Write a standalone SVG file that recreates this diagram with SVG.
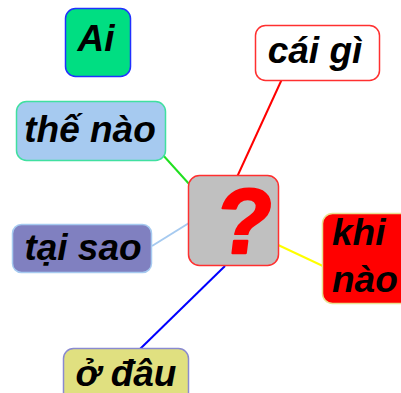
<svg xmlns="http://www.w3.org/2000/svg" width="401" height="393" viewBox="0 0 401 393">
  <style>
    .lbl { font-family: "Liberation Sans", Arial, sans-serif; font-weight: bold; font-style: italic; font-size: 37px; fill: #000; }
    .box { stroke-width: 1.5; }
    .link { stroke-width: 2; fill: none; }
  </style>
  <rect width="401" height="393" fill="#fff"/>
  <g id="connectors">
    <line class="link" x1="162" y1="154" x2="190" y2="185" stroke="#20e020"/>
    <line class="link" x1="282" y1="79" x2="237" y2="177" stroke="#ff0000"/>
    <line class="link" x1="152" y1="246" x2="189" y2="223" stroke="#a6caf0"/>
    <line class="link" x1="276" y1="244" x2="325" y2="267" stroke="#ffff00"/>
    <line class="link" x1="225" y1="266" x2="140" y2="349" stroke="#0000ff"/>
  </g>
  <g id="center">
    <rect class="box" x="188.5" y="175.5" width="90" height="90" rx="11" fill="#c0c0c0" stroke="#ff3030"/>
    <text transform="translate(241 253) skewX(-7)" x="0" y="0" text-anchor="middle" style="font-family:'Liberation Sans',Arial,sans-serif;font-weight:bold;font-size:92px" fill="#ff0000" stroke="#ff0000" stroke-width="2.5" stroke-linejoin="round">?</text>
  </g>
  <g id="ai">
    <rect class="box" x="65.5" y="8.5" width="65" height="68" rx="10" fill="#00de82" stroke="#2030ff"/>
    <text class="lbl" x="96" y="51" text-anchor="middle">Ai</text>
  </g>
  <g id="the-nao">
    <rect class="box" x="16.5" y="101.5" width="149" height="59" rx="10" fill="#a6caf0" stroke="#40e0a0"/>
    <text class="lbl" x="90" y="142" text-anchor="middle">thế nào</text>
  </g>
  <g id="cai-gi">
    <rect class="box" x="255.5" y="25.5" width="124" height="55" rx="10" fill="#ffffff" stroke="#ff3030"/>
    <text class="lbl" x="315" y="63" text-anchor="middle">cái gì</text>
  </g>
  <g id="tai-sao">
    <rect class="box" x="12.5" y="224.5" width="139" height="48" rx="9" fill="#8080c0" stroke="#a6caf0"/>
    <text class="lbl" x="83" y="260" text-anchor="middle">tại sao</text>
  </g>
  <g id="khi-nao">
    <rect class="box" x="322.5" y="213.5" width="100" height="90" rx="10" fill="#ff0000" stroke="#e8e090"/>
    <text class="lbl" x="332" y="245">khi</text>
    <text class="lbl" x="332" y="292">nào</text>
  </g>
  <g id="o-dau">
    <rect class="box" x="63.5" y="348.5" width="125" height="55" rx="10" fill="#e0e080" stroke="#8a8ad0"/>
    <text class="lbl" x="126" y="386" text-anchor="middle">ở đâu</text>
  </g>
</svg>
